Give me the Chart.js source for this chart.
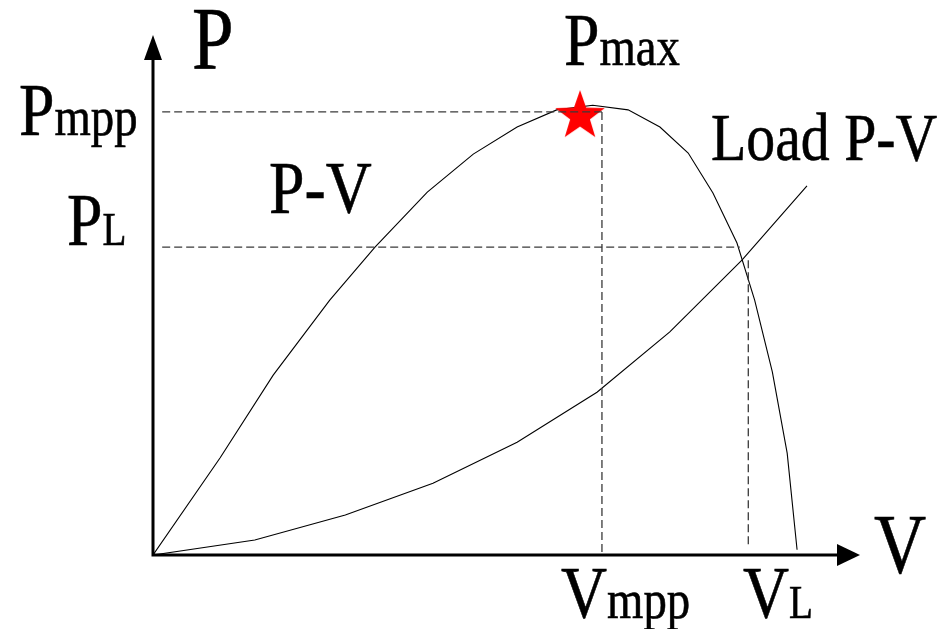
<!DOCTYPE html>
<html>
<head>
<meta charset="utf-8">
<script src="https://cdn.jsdelivr.net/npm/chart.js@4"></script>
<style>
  body { margin: 0; background: #fff; }
  #wrap { width: 948px; height: 629px; }
</style>
</head>
<body>
<div id="wrap"><canvas id="pvChart" width="948" height="629"></canvas></div>
<script>
/* Data (relative units, axis length = 100) */

const pvVoltage = [0, 9.5, 17.0, 25.0, 31.4, 38.8, 45.3, 51.5, 57.1, 62.2, 67.2, 71.7, 75.7, 79.2, 82.6, 85.1, 87.6, 89.7, 91.1];
const pvPower = [0, 18.7, 34.6, 49.0, 59.2, 69.8, 77.1, 82.3, 85.6, 86.5, 85.6, 82.3, 77.3, 69.6, 60.0, 49.0, 35.2, 19.6, 1.0];

const loadVoltage = [0, 14.4, 27.2, 39.6, 51.5, 62.8, 73.1, 83.3, 92.5];
const loadPower = [0, 2.9, 7.7, 13.8, 21.7, 31.3, 42.9, 56.7, 71.0];

const maxPoint = { v: 60.4, p: 84.4 };
const mppVoltage = 63.5;
const mppPower = 85.2;
const opVoltage = 84.2;
const opPower = 59.2;
const opPowerOnLoad = 56.7;

const axisMax = 100;

/* Star marker */

function makeStar(radius, color) {
    const c = document.createElement("canvas");
    c.width = radius * 2 + 2;
    c.height = radius * 2 + 2;
    const ctx = c.getContext("2d");
    const cx = c.width / 2;
    const cy = c.height / 2;
    const inner = radius * 0.4;
    ctx.beginPath();
    for (let i = 0; i < 10; i++) {
        const r = i % 2 === 0 ? radius : inner;
        const a = -Math.PI / 2 + i * Math.PI / 5;
        const x = cx + r * Math.cos(a);
        const y = cy + r * Math.sin(a);
        if (i === 0) ctx.moveTo(x, y); else ctx.lineTo(x, y);
    }
    ctx.closePath();
    ctx.fillStyle = color;
    ctx.fill();
    return c;
}

const toPoints = (xs, ys) => xs.map((x, i) => ({ x: x, y: ys[i] }));

const dashStyle = {
    borderColor: "#3a3a3a",
    borderWidth: 1.3,
    borderDash: [8, 4],
    pointRadius: 0,
    fill: false,
    order: 0
};

/* Axes with arrows + labels */

const axesPlugin = {
    id: "axesPlugin",
    afterDatasetsDraw(chart) {
        const ctx = chart.ctx;
        const xs = chart.scales.x;
        const ys = chart.scales.y;
        const x0 = xs.getPixelForValue(0);
        const y0 = ys.getPixelForValue(0);
        const xEnd = xs.getPixelForValue(axisMax);
        const yEnd = ys.getPixelForValue(axisMax);

        ctx.save();
        ctx.strokeStyle = "#000";
        ctx.fillStyle = "#000";
        ctx.lineWidth = 3;

        ctx.beginPath();
        ctx.moveTo(x0, y0 + 1.5);
        ctx.lineTo(x0, yEnd + 24);
        ctx.moveTo(x0 - 1.5, y0);
        ctx.lineTo(xEnd - 22, y0);
        ctx.stroke();

        ctx.beginPath();
        ctx.moveTo(x0, yEnd);
        ctx.lineTo(x0 - 9, yEnd + 25);
        ctx.lineTo(x0 + 9, yEnd + 25);
        ctx.closePath();
        ctx.fill();

        ctx.beginPath();
        ctx.moveTo(xEnd, y0);
        ctx.lineTo(xEnd - 23, y0 - 11);
        ctx.lineTo(xEnd - 23, y0 + 11);
        ctx.closePath();
        ctx.fill();
        ctx.restore();
    },
    afterDraw(chart) {
        const ctx = chart.ctx;
        const family = '"Liberation Serif", "DejaVu Serif", serif';
        const squeeze = 0.85;

        function label(x, y, main, size, sub, subSize) {
            ctx.save();
            ctx.fillStyle = "#000";
            ctx.strokeStyle = "#000";
            ctx.lineWidth = 0.6;
            ctx.textBaseline = "alphabetic";
            ctx.translate(x, y);
            ctx.scale(squeeze, 1);
            ctx.font = size + "px " + family;
            ctx.fillText(main, 0, 0);
            ctx.strokeText(main, 0, 0);
            if (sub) {
                const w = ctx.measureText(main).width;
                ctx.font = subSize + "px " + family;
                ctx.fillText(sub, w, 0);
                ctx.strokeText(sub, w, 0);
            }
            ctx.restore();
        }

        label(192, 68, "P", 88);
        label(874, 573, "V", 85);
        label(564, 65, "P", 75, "max", 55);
        label(19, 135, "P", 75, "mpp", 55);
        label(67, 245, "P", 75, "L", 46);
        label(269, 213, "P-V", 75);
        label(711, 160, "Load P-V", 68);
        label(561, 618, "V", 75, "mpp", 55);
        label(743, 618, "V", 75, "L", 46);
    }
};

new Chart(document.querySelector("#pvChart"), {
    type: "line",
    data: {
        datasets: [
            {
                label: "P-V",
                data: toPoints(pvVoltage, pvPower),
                borderColor: "#000",
                borderWidth: 1.1,
                pointRadius: 0,
                tension: 0,
                order: 2
            },
            {
                label: "Load P-V",
                data: toPoints(loadVoltage, loadPower),
                borderColor: "#000",
                borderWidth: 1.1,
                pointRadius: 0,
                tension: 0,
                order: 2
            },
            Object.assign({ label: "Pmpp", data: [{ x: 1.3, y: mppPower }, { x: mppVoltage, y: mppPower }] }, dashStyle),
            Object.assign({ label: "Vmpp", data: [{ x: mppVoltage, y: mppPower }, { x: mppVoltage, y: -0.4 }] }, dashStyle),
            Object.assign({ label: "PL", data: [{ x: 1.3, y: opPower }, { x: opVoltage - 1.2, y: opPower }] }, dashStyle),
            Object.assign({ label: "VL", data: [{ x: opVoltage, y: opPowerOnLoad }, { x: opVoltage, y: 1.9 }] }, dashStyle),
            {
                label: "Pmax",
                data: [{ x: maxPoint.v, y: maxPoint.p }],
                showLine: false,
                pointStyle: makeStar(26, "#ff0000"),
                pointRadius: 26,
                order: 1
            }
        ]
    },
    options: {
        responsive: false,
        animation: false,
        devicePixelRatio: 1,
        layout: {
            padding: { left: 153, right: 88, top: 35, bottom: 74 }
        },
        plugins: {
            legend: { display: false },
            tooltip: { enabled: false }
        },
        elements: {
            line: { clip: false }
        },
        scales: {
            x: { type: "linear", min: 0, max: axisMax, display: false },
            y: { type: "linear", min: 0, max: axisMax, display: false }
        }
    },
    plugins: [axesPlugin]
});
</script>
</body>
</html>
